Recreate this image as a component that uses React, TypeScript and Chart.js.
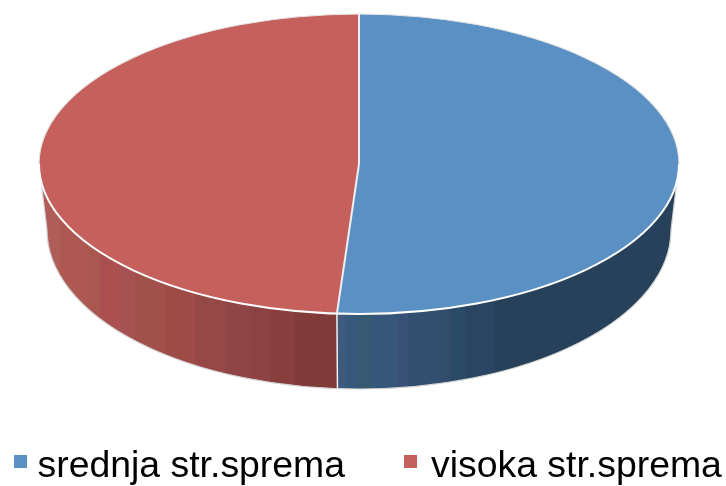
import React, { useEffect, useRef } from "react";
import { Chart, registerables } from "chart.js";

Chart.register(...registerables);

const categories = ["srednja str.sprema", "visoka str.sprema"];
const shares = [51.1, 48.9];
const topColors = ["#5b90c5", "#c5605c"];

// [right edge of band in px, colour]
const redWallBands: [number, string][] = [
  [60, "#b05c58"], [88, "#ad5850"], [100, "#aa5750"], [120, "#ab5050"], [135, "#a65252"],
  [165, "#a1504a"], [195, "#9e4b48"], [225, "#964846"], [250, "#8f4445"], [270, "#8d4243"],
  [295, "#883e3d"], [340, "#803a38"],
];
const blueWallBands: [number, string][] = [
  [345, "#3f5a7e"], [358, "#35587b"], [372, "#375a72"], [398, "#36577a"], [408, "#3a5076"],
  [440, "#315070"], [450, "#324c6a"], [465, "#2a4b66"], [495, "#2a4462"], [690, "#27415a"],
];
const wallBands = [blueWallBands, redWallBands];

const TOP = { cx: 359, cy: 164, rx: 320, ry: 150 };
const BOTTOM = { cx: 359, cy: 230, rx: 312, ry: 159 };

const LEGEND_FONT = '37.4px "Liberation Sans"';
const legendX = [14, 404];
const legendTextX = [37.5, 431];
const LEGEND_BOX = 13;
const LEGEND_BOX_Y = 455;
const LEGEND_BASELINE = 477;

function bandGradient(ctx: CanvasRenderingContext2D, bands: [number, string][]) {
  const x0 = 30;
  const x1 = 700;
  const g = ctx.createLinearGradient(x0, 0, x1, 0);
  let prev = 0;
  bands.forEach(([edge, color]) => {
    g.addColorStop(prev, color);
    const stop = Math.min(1, (edge - x0) / (x1 - x0));
    g.addColorStop(stop, color);
    prev = stop;
  });
  return g;
}

const pie3d = {
  id: "pie3d",
  beforeDatasetsDraw(chart: any) {
    const { ctx } = chart;
    const arcs = chart.getDatasetMeta(0).data;
    arcs.forEach((arc: any, i: number) => {
      const a0 = Math.max(0, Math.min(Math.PI, arc.startAngle));
      const a1 = Math.min(Math.PI, arc.endAngle);
      if (a1 <= a0) return;
      ctx.beginPath();
      ctx.ellipse(TOP.cx, TOP.cy, TOP.rx, TOP.ry, 0, a0, a1);
      ctx.ellipse(BOTTOM.cx, BOTTOM.cy, BOTTOM.rx, BOTTOM.ry, 0, a1, a0, true);
      ctx.closePath();
      ctx.fillStyle = bandGradient(ctx, wallBands[i]);
      ctx.fill();
    });
    // outer contour of the wall
    ctx.beginPath();
    ctx.moveTo(TOP.cx + TOP.rx, TOP.cy);
    ctx.lineTo(BOTTOM.cx + BOTTOM.rx, BOTTOM.cy);
    ctx.ellipse(BOTTOM.cx, BOTTOM.cy, BOTTOM.rx, BOTTOM.ry, 0, 0, Math.PI);
    ctx.lineTo(TOP.cx - TOP.rx, TOP.cy);
    ctx.strokeStyle = "#d4d4d4";
    ctx.lineWidth = 1.2;
    ctx.stroke();
    // seams of the wall
    arcs.forEach((arc: any) => {
      const a = arc.endAngle;
      if (a <= 0 || a >= Math.PI) return;
      ctx.beginPath();
      ctx.moveTo(TOP.cx + TOP.rx * Math.cos(a), TOP.cy + TOP.ry * Math.sin(a));
      ctx.lineTo(BOTTOM.cx + BOTTOM.rx * Math.cos(a), BOTTOM.cy + BOTTOM.ry * Math.sin(a));
      ctx.strokeStyle = "#eeeeee";
      ctx.lineWidth = 1.5;
      ctx.stroke();
    });
    // flatten the library's pie into the top ellipse
    const first = arcs[0];
    ctx.save();
    ctx.translate(TOP.cx, TOP.cy);
    ctx.scale(1, TOP.ry / TOP.rx);
    ctx.translate(-first.x, -first.y);
  },
  afterDatasetsDraw(chart: any) {
    const { ctx } = chart;
    ctx.restore();
    const arcs = chart.getDatasetMeta(0).data;
    // back rim thin, front rim heavier
    ctx.beginPath();
    ctx.ellipse(TOP.cx, TOP.cy, TOP.rx, TOP.ry, 0, Math.PI, 2 * Math.PI);
    ctx.strokeStyle = "#e4e4e4";
    ctx.lineWidth = 1.2;
    ctx.stroke();
    ctx.beginPath();
    ctx.ellipse(TOP.cx, TOP.cy, TOP.rx, TOP.ry, 0, 0, Math.PI);
    ctx.strokeStyle = "#ffffff";
    ctx.lineWidth = 2;
    ctx.stroke();
    arcs.forEach((arc: any) => {
      const a = arc.startAngle;
      ctx.beginPath();
      ctx.moveTo(TOP.cx, TOP.cy);
      ctx.lineTo(TOP.cx + TOP.rx * Math.cos(a), TOP.cy + TOP.ry * Math.sin(a));
      ctx.strokeStyle = "#f0eeee";
      ctx.lineWidth = 2;
      ctx.stroke();
    });
  },
  afterDraw(chart: any) {
    const { ctx } = chart;
    ctx.save();
    ctx.font = LEGEND_FONT;
    ctx.textBaseline = "alphabetic";
    ctx.textAlign = "left";
    categories.forEach((label, i) => {
      ctx.fillStyle = topColors[i];
      ctx.fillRect(legendX[i], LEGEND_BOX_Y, LEGEND_BOX, LEGEND_BOX);
      ctx.fillStyle = "#000000";
      ctx.fillText(label, legendTextX[i], LEGEND_BASELINE);
    });
    ctx.restore();
  },
};

export default function App() {
  const ref = useRef<HTMLCanvasElement>(null);
  useEffect(() => {
    const chart = new Chart(ref.current as HTMLCanvasElement, {
      type: "pie",
      data: {
        labels: categories,
        datasets: [
          {
            data: shares,
            backgroundColor: topColors,
            borderWidth: 0,
            clip: false,
          } as any,
        ],
      },
      options: {
        responsive: false,
        animation: false,
        devicePixelRatio: 1,
        radius: 320,
        rotation: 0,
        layout: { padding: 0 },
        plugins: { legend: { display: false }, tooltip: { enabled: false } },
      } as any,
      plugins: [pie3d],
    });
    return () => chart.destroy();
  }, []);
  return (
    <canvas
      ref={ref}
      width={726}
      height={486}
      style={{ position: "absolute", left: 0, top: 0, display: "block", background: "#ffffff" }}
    />
  );
}
